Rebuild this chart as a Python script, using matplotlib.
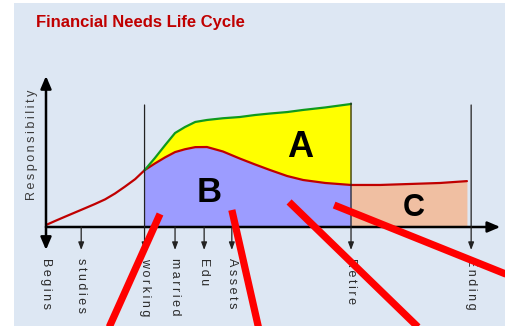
import matplotlib
matplotlib.use("Agg")
import matplotlib.pyplot as plt
from matplotlib.patches import Rectangle
import numpy as np

# ---------------- data (life stage ages / responsibility level) ----------------
stage_labels = ["Begins", "studies", "working", "married", "Edu", "Assets", "Retire", "Ending"]
stage_ages = [0, 7.5, 21, 27.5, 33.7, 39.6, 65, 90.6]
tall_stage_labels = ["working", "Retire", "Ending"]
tall_stage_tops = [98.4, 100.0, 98.4]

# red curve before working life
early_ages = [0, 1.9, 4.05, 8.3, 10.4, 12.6, 14.7, 16.8, 19.0, 21]
early_level = [1.6, 4.8, 8.3, 15.1, 18.5, 22.3, 27.0, 32.5, 38.6, 45.8]

# working life: red (needs) and green (income capacity) on the same ages
work_ages = [21, 23.2, 25.4, 27.5, 29.6, 31.8, 34.3, 37.7, 41.3, 44.5, 47.7, 51.4, 54.8, 59.5, 65]
work_needs = [45.8, 51.2, 56.2, 60.4, 62.7, 64.4, 64.5, 60.9, 55.2, 50.5, 46.0, 41.1, 37.9, 35.5, 33.9]
work_income = [45.8, 55.6, 66.1, 75.8, 80.6, 84.7, 86.3, 87.7, 88.7, 90.3, 91.5, 92.7, 94.4, 96.4, 99.2]

# red curve after retirement
retire_ages = [65, 71.2, 77.6, 84, 89.7]
retire_level = [33.9, 33.9, 34.7, 35.5, 37]

zone_names = ["A", "B", "C"]
zone_ages = [54.1, 34.8, 78.4]
zone_levels = [56.7, 20.4, 8.9]
zone_sizes = [26, 25, 22]

# red pointer strokes (start age, start level, end age, end level)
pointer_x0 = [24.3, 39.6, 51.8, 61.4]
pointer_y0 = [10.5, 13.7, 20.2, 17.7]
pointer_x1 = [13.2, 45.4, 79.9, 99.0]
pointer_y1 = [-83, -83, -83, -39.5]

y_axis_top = 121.8
x_axis_end = 96.8
tick_bottom = -18.5
label_top = -25.0

# ---------------- figure ----------------
W, H = 505, 326
fig = plt.figure(figsize=(W / 100, H / 100), dpi=100)
fig.patch.set_facecolor("white")
fig.patches.append(Rectangle((14 / W, 0), 1 - 14 / W, 1 - 3 / H, transform=fig.transFigure,
                             facecolor="#dde7f3", edgecolor="none", zorder=-10))

ax = fig.add_axes([0, 0, 1, 1])
ax.set_zorder(5)
ax.axis("off")
k = 0.2131
ax.set_xlim(-46 * k, 459 * k)
ax.set_ylim(-99 / 1.24, 227 / 1.24)

# fills
ax.fill_between(work_ages, work_needs, work_income, color="#ffff00", lw=0, zorder=2)
ax.fill_between(work_ages, 0, work_needs, color="#9c9cff", lw=0, zorder=2)
ax.fill_between(retire_ages, 0, retire_level, color="#f0bfa2", lw=0, zorder=2)

# curves
red = "#c00000"
ax.plot(early_ages + work_ages[1:], early_level + work_needs[1:], color=red, lw=1.6,
        zorder=4, solid_capstyle="round", solid_joinstyle="round")
ax.plot(retire_ages, retire_level, color=red, lw=1.6, zorder=4, solid_capstyle="round")
ax.plot(work_ages, work_income, color="#0f9a1c", lw=1.6, zorder=4, solid_capstyle="round",
        solid_joinstyle="round")

# main axes with arrows
big = dict(arrowstyle="-|>,head_length=0.75,head_width=0.32", lw=1.8, color="black",
           shrinkA=0, shrinkB=0, mutation_scale=10)
ax.annotate("", xy=(0, y_axis_top), xytext=(0, 0), arrowprops=big, zorder=5)
ax.annotate("", xy=(0, tick_bottom), xytext=(0, 0), arrowprops=big, zorder=5)
ax.annotate("", xy=(x_axis_end, 0), xytext=(0, 0), arrowprops=big, zorder=5)

# stage ticks
small = dict(arrowstyle="-|>,head_length=0.45,head_width=0.17", lw=0.9, color="#222222",
             shrinkA=0, shrinkB=0, mutation_scale=10)
for lab, age in zip(stage_labels, stage_ages):
    if lab == "Begins":
        continue
    top = 0
    if lab in tall_stage_labels:
        top = tall_stage_tops[tall_stage_labels.index(lab)]
    ax.annotate("", xy=(age, tick_bottom), xytext=(age, top), arrowprops=small, zorder=5)

fam = ["Liberation Sans", "DejaVu Sans"]
for lab, age in zip(stage_labels, stage_ages):
    ax.text(age, label_top, "\u2009".join(lab), rotation=-90, ha="center", va="top",
            fontsize=9, family=fam, color="#2a2a2a", zorder=3)

ax.text(-2.88, 66.1, "\u2009".join("Responsibility"), rotation=90, ha="center", va="center",
        fontsize=9, family=fam, color="#3a3a3a")

for name, xa, ya, sz in zip(zone_names, zone_ages, zone_levels, zone_sizes):
    ax.text(xa, ya, name, ha="center", va="baseline", fontsize=sz, fontweight="bold",
            family="Liberation Sans", color="black", zorder=6)

for x0, y0, x1, y1 in zip(pointer_x0, pointer_y0, pointer_x1, pointer_y1):
    ax.plot([x0, x1], [y0, y1], color="#ff0000", lw=5.2, solid_capstyle="butt", zorder=7,
            clip_on=False)

fig.text(36 / W, 1 - 27 / H, "Financial Needs Life Cycle", ha="left", va="baseline",
         fontsize=12, fontweight="bold", family="Liberation Sans", color="#c00000")

fig.savefig("out.png", dpi=100)
